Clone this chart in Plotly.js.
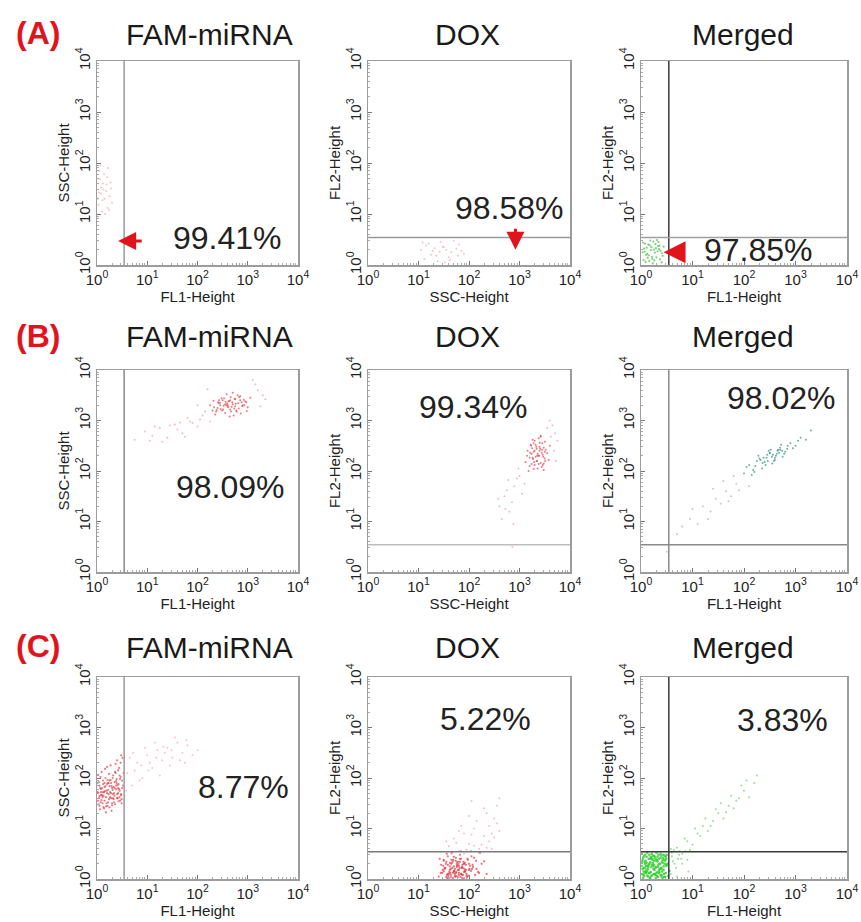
<!DOCTYPE html>
<html>
<head>
<meta charset="utf-8">
<script src="https://cdn.plot.ly/plotly-3.0.1.min.js"></script>
<style>
html,body{margin:0;padding:0;background:#fff}
#chart{width:861px;height:922px}
</style>
</head>
<body>
<div id="chart"></div>
<script>
// Flow cytometry dot plots, values in log10 decades (channel 10^0 .. 10^4)

// ---- (A) ----
const a1X = [0.05,0.12,0.2,0.08,0.28,0.15,0.03,0.22,0.1,0.3,0.18,0.06,0.25,0.14,0.09,0.21,0.04,0.27,0.16,0.11,0.19,0.07,0.24,0.13,0.02];
const a1Y = [1.85,1.6,1.72,1.4,1.5,1.3,1.18,1.9,1.05,1.22,1.45,1.68,1.35,1.78,1.52,1.12,1.42,1.62,1.0,1.27,1.58,1.95,1.08,1.48,1.3];

const a2X = [1.05,1.2,1.35,1.5,1.65,1.8,1.12,1.28,1.44,1.6,1.75,1.9,1.15,1.38,1.55,1.7,1.25,1.48,1.62,1.85,1.08,1.32,1.52,1.78,1.42];
const a2Y = [0.3,0.42,0.18,0.35,0.25,0.4,0.12,0.28,0.45,0.15,0.32,0.22,0.38,0.08,0.3,0.47,0.2,0.36,0.1,0.28,0.44,0.33,0.05,0.18,0.26];

const a3X = [0.05,0.12,0.2,0.3,0.38,0.08,0.16,0.25,0.34,0.42,0.03,0.14,0.22,0.29,0.4,0.1,0.18,0.27,0.36,0.06,0.13,0.24,0.32,0.44,0.09,0.19,0.28,0.37,0.04,0.15,0.23,0.33,0.41,0.11,0.21,0.31,0.07,0.17,0.26,0.35];
const a3Y = [0.1,0.22,0.35,0.15,0.28,0.42,0.08,0.3,0.45,0.18,0.25,0.4,0.12,0.33,0.05,0.2,0.48,0.24,0.38,0.32,0.14,0.46,0.27,0.36,0.06,0.29,0.41,0.11,0.44,0.19,0.03,0.37,0.23,0.34,0.16,0.49,0.26,0.39,0.09,0.31];

// ---- (B) ----
const b1CoreX = [2.3,2.45,2.6,2.75,2.9,3.05,2.35,2.5,2.65,2.8,2.95,2.4,2.55,2.7,2.85,3.0,2.25,2.62,2.78,2.48,2.68,2.88,2.58,2.72,2.42,2.82,2.52,2.92,2.66,2.38,2.76,2.56,2.86,2.46,2.7,2.6,2.98,2.32,2.74,2.64,
  2.33,2.41,2.49,2.57,2.65,2.73,2.81,2.89,2.97,2.37,2.45,2.53,2.61,2.69,2.77,2.85,2.93,2.43,2.51,2.59,2.67,2.75,2.83,2.55,2.63];
const b1CoreY = [3.2,3.35,3.28,3.42,3.3,3.45,3.12,3.4,3.22,3.5,3.38,3.25,3.15,3.32,3.48,3.26,3.3,3.38,3.18,3.44,3.27,3.36,3.52,3.1,3.34,3.24,3.29,3.41,3.46,3.21,3.33,3.37,3.14,3.23,3.55,3.31,3.19,3.39,3.43,3.08,
  3.26,3.36,3.2,3.3,3.4,3.24,3.34,3.28,3.36,3.18,3.3,3.44,3.26,3.36,3.2,3.4,3.3,3.4,3.22,3.34,3.18,3.28,3.46,3.32,3.38];
const b1SpreadX = [0.75,0.95,1.1,1.25,1.4,1.55,1.7,1.85,2.0,2.1,1.3,1.6,1.9,2.15,3.2,3.3,3.15,3.35,2.05,1.45,1.15,1.75,2.2,3.1,2.0,1.65,1.05,3.25,1.8,2.25];
const b1SpreadY = [2.62,2.78,2.7,2.85,2.66,2.92,2.75,2.98,2.88,3.1,2.58,2.82,2.95,3.18,3.6,3.5,3.72,3.42,3.02,2.9,2.88,2.68,3.62,3.8,3.3,2.96,2.6,3.28,3.05,2.98];

const b2CoreX = [3.15,3.25,3.35,3.45,3.55,3.2,3.3,3.4,3.5,3.6,3.18,3.28,3.38,3.48,3.22,3.32,3.42,3.52,3.12,3.36,3.46,3.26,3.4,3.3,3.5,3.24,3.44,3.34,3.58,3.16,3.38,3.28,3.48,3.2,3.42,
  3.21,3.27,3.33,3.39,3.45,3.51,3.24,3.3,3.36,3.42,3.48,3.23,3.29,3.35,3.41,3.47,3.26,3.32,3.38,3.44,3.5,3.28,3.34,3.4,3.46];
const b2CoreY = [2.3,2.45,2.2,2.55,2.35,2.1,2.6,2.4,2.25,2.5,2.0,2.38,2.65,2.15,2.52,2.28,2.7,2.42,2.18,2.05,2.32,2.62,2.48,2.12,2.58,2.34,2.08,2.44,2.22,2.4,2.3,2.55,2.02,2.26,2.68,
  2.36,2.24,2.48,2.3,2.42,2.2,2.14,2.4,2.34,2.16,2.46,2.5,2.18,2.3,2.44,2.28,2.26,2.52,2.14,2.36,2.38,2.04,2.2,2.56,2.12];
const b2SpreadX = [2.6,2.7,2.8,2.9,3.0,2.65,2.75,2.85,2.95,3.05,3.65,3.7,3.75,3.6,3.55,2.72,2.58,2.88,3.1,3.68,2.98,2.78,2.86,3.72,3.62];
const b2SpreadY = [1.3,1.5,1.2,1.7,1.9,1.05,1.62,1.38,1.85,1.55,2.9,2.75,2.6,3.0,2.85,1.25,1.45,0.95,1.75,2.4,2.05,1.82,0.5,2.2,2.68];

const b3CoreX = [2.0,2.1,2.2,2.3,2.4,2.5,2.6,2.7,2.8,2.9,3.0,3.1,3.2,3.3,2.05,2.15,2.25,2.35,2.45,2.55,2.65,2.75,2.85,2.95,3.05,2.28,2.42,2.52,2.62,2.72,2.38,2.48,2.58,2.68,2.18,
  2.22,2.32,2.44,2.54,2.64,2.74,2.84,2.36,2.5,2.6,2.7,2.46,2.56,2.66,2.78];
const b3CoreY = [1.95,2.12,1.98,2.25,2.18,2.35,2.22,2.42,2.38,2.55,2.5,2.66,2.62,2.8,2.08,1.92,2.2,2.05,2.32,2.15,2.4,2.28,2.5,2.45,2.6,2.3,2.12,2.42,2.3,2.52,2.26,2.4,2.2,2.36,2.02,
  2.1,2.22,2.26,2.28,2.34,2.4,2.44,2.16,2.36,2.26,2.46,2.2,2.32,2.42,2.34];
const b3SpreadX = [0.5,0.8,0.95,1.1,1.2,1.35,1.45,1.55,1.65,1.75,1.85,1.9,1.3,1.6,1.0,1.7,1.4,1.8,2.1,0.7];
const b3SpreadY = [0.4,0.9,1.05,0.95,1.3,1.2,1.45,1.35,1.6,1.5,1.75,1.62,1.05,1.8,1.25,1.4,1.65,1.9,1.7,0.75];

// ---- (C) ----
const c1CoreX = [0.02,0.08,0.14,0.2,0.26,0.32,0.38,0.44,0.5,0.05,0.11,0.17,0.23,0.29,0.35,0.41,0.47,0.53,0.03,0.09,0.15,0.21,0.27,0.33,0.39,0.45,0.51,0.06,0.12,0.18,0.24,0.3,0.36,0.42,0.48,0.04,0.1,0.16,0.22,0.28,0.34,0.4,0.46,0.52,0.07,0.13,0.19,0.25,0.31,0.37,0.43,0.49,0.01,0.15,0.25,0.35,0.45,0.08,0.18,0.28,0.38,0.48,0.12,0.22,0.32,0.42,0.05,0.2,0.3,0.4,
  0.03,0.1,0.17,0.24,0.31,0.38,0.45,0.06,0.13,0.2,0.27,0.34,0.41,0.48,0.02,0.09,0.16,0.23,0.3,0.37,0.44,0.05,0.12,0.19,0.26,0.33,0.4,0.47,0.04,0.11,0.18,0.25,0.32,0.39,0.46,0.07,0.14,0.21,0.28,0.35,0.42,0.49,0.08,0.15,0.22,0.29,0.36,0.43,0.5,0.01];
const c1CoreY = [1.55,1.72,1.4,1.88,1.62,2.05,1.78,2.2,1.95,1.85,1.5,2.0,1.68,1.35,1.92,1.6,2.3,2.1,1.7,2.12,1.82,1.45,2.25,1.58,1.98,1.75,2.4,1.38,1.95,1.62,2.08,1.8,1.48,2.15,1.66,1.6,1.8,2.18,1.52,1.9,1.7,2.35,1.55,1.85,2.02,1.65,1.75,1.42,2.0,2.28,1.88,1.58,1.9,1.55,1.95,1.65,2.05,1.78,1.32,1.7,1.85,2.45,1.72,1.9,1.6,1.8,1.45,2.22,1.5,1.68,
  1.48,1.66,1.84,1.58,1.76,1.94,1.62,1.8,1.42,1.7,1.96,1.52,1.86,1.68,2.06,1.56,1.74,1.9,1.46,2.1,1.78,1.64,1.88,1.5,1.72,1.82,1.6,2.02,1.92,1.62,1.44,1.84,1.68,1.9,1.98,1.52,1.72,1.96,1.6,1.8,1.7,1.5,1.66,1.9,1.76,1.84,2.12,1.54,1.8,1.72];
const c1SpreadX = [0.6,0.7,0.8,0.9,1.0,1.1,1.2,1.3,1.4,1.5,1.6,1.7,1.8,1.9,2.0,0.65,0.75,0.85,0.95,1.05,1.15,1.25,1.35,1.45,1.55,1.65,1.75,0.58,0.88,1.18,1.48,1.78,0.72,1.02,1.32];
const c1SpreadY = [2.1,1.85,2.3,2.0,2.45,2.2,2.55,2.35,2.6,2.4,2.7,2.5,2.65,2.45,2.55,2.4,2.15,1.95,2.6,2.3,2.7,2.05,2.5,2.25,2.8,2.35,2.3,1.75,2.25,2.4,2.55,2.75,2.5,2.15,2.62];

const c2CoreX = [1.4,1.5,1.6,1.7,1.8,1.9,2.0,2.1,2.2,2.3,1.45,1.55,1.65,1.75,1.85,1.95,2.05,2.15,2.25,2.35,1.42,1.52,1.62,1.72,1.82,1.92,2.02,2.12,2.22,1.48,1.58,1.68,1.78,1.88,1.98,2.08,2.18,1.44,1.54,1.64,1.74,1.84,1.94,2.04,2.14,1.6,1.7,1.8,1.66,1.76,1.86,1.56,1.72,1.82,1.92,1.62,1.78,1.68,1.88,1.74,1.5,1.84,1.96,2.06,1.58,1.7,1.8,1.9,1.64,1.76,
  1.47,1.53,1.59,1.65,1.71,1.77,1.83,1.89,1.95,2.01,2.07,1.5,1.56,1.62,1.68,1.74,1.8,1.86,1.92,1.98,2.04,1.49,1.55,1.61,1.67,1.73,1.79,1.85,1.91,1.97,1.52,1.58,1.64,1.7,1.76,1.82,1.88,1.94,2.0,1.63,1.69,1.75,1.81,1.87,1.57,1.66,1.72,1.78,1.84,1.9];
const c2CoreY = [0.05,0.15,0.1,0.25,0.08,0.3,0.18,0.42,0.12,0.35,0.28,0.04,0.38,0.14,0.22,0.06,0.45,0.2,0.3,0.1,0.4,0.22,0.32,0.06,0.48,0.16,0.26,0.08,0.52,0.18,0.45,0.12,0.34,0.02,0.38,0.24,0.14,0.12,0.3,0.2,0.42,0.1,0.28,0.55,0.36,0.02,0.16,0.26,0.52,0.32,0.08,0.5,0.2,0.4,0.14,0.25,0.04,0.35,0.22,0.12,0.36,0.55,0.03,0.2,0.1,0.44,0.18,0.3,0.08,0.28,
  0.12,0.22,0.06,0.3,0.16,0.26,0.04,0.34,0.1,0.2,0.28,0.38,0.08,0.18,0.02,0.36,0.12,0.24,0.32,0.06,0.16,0.26,0.34,0.14,0.22,0.04,0.3,0.1,0.2,0.4,0.2,0.28,0.04,0.14,0.24,0.34,0.08,0.18,0.3,0.12,0.38,0.06,0.22,0.28,0.02,0.32,0.1,0.18,0.4,0.14];
const c2SpreadX = [1.6,1.7,1.8,1.9,2.0,2.1,2.2,2.3,2.4,2.5,2.6,1.65,1.75,1.85,1.95,2.05,2.15,2.25,2.35,2.45,2.55,1.55,2.0,2.2,2.4,2.5,1.8,2.3,2.1,2.6,1.9,2.45,2.35,2.55,2.05];
const c2SpreadY = [0.65,0.8,0.55,0.9,0.7,1.0,0.6,0.85,0.75,1.2,0.95,0.5,0.72,1.05,0.58,0.88,1.15,0.68,1.3,0.6,1.45,0.75,1.25,0.52,1.05,0.82,0.95,1.4,0.66,1.6,0.5,0.9,0.62,1.1,1.55];

const c3CoreX = [0.02,0.08,0.14,0.2,0.26,0.32,0.38,0.44,0.5,0.05,0.11,0.17,0.23,0.29,0.35,0.41,0.47,0.53,0.03,0.09,0.15,0.21,0.27,0.33,0.39,0.45,0.51,0.06,0.12,0.18,0.24,0.3,0.36,0.42,0.48,0.04,0.1,0.16,0.22,0.28,0.34,0.4,0.46,0.01,0.07,0.13,0.19,0.25,0.31,0.37,0.43,0.49,0.55,0.1,0.2,0.3,0.4,0.15,0.25,0.35,0.05,0.45,0.12,0.22,0.32,0.42,0.18,0.28,0.38,0.08,
  0.03,0.09,0.15,0.21,0.27,0.33,0.39,0.45,0.06,0.12,0.18,0.24,0.3,0.36,0.42,0.48,0.02,0.08,0.14,0.2,0.26,0.32,0.38,0.44,0.5,0.05,0.11,0.17,0.23,0.29,0.35,0.41,0.47,0.04,0.1,0.16,0.22,0.28,0.34,0.4,0.46,0.07,0.13,0.19,0.25,0.31,0.37,0.43,0.49,0.01];
const c3CoreY = [0.1,0.3,0.05,0.42,0.18,0.35,0.08,0.25,0.48,0.22,0.44,0.12,0.32,0.02,0.4,0.15,0.36,0.06,0.38,0.16,0.28,0.5,0.1,0.24,0.46,0.04,0.3,0.45,0.07,0.33,0.2,0.52,0.14,0.38,0.12,0.02,0.26,0.48,0.08,0.4,0.28,0.2,0.46,0.5,0.34,0.2,0.14,0.46,0.06,0.3,0.42,0.26,0.16,0.12,0.24,0.36,0.05,0.4,0.28,0.18,0.15,0.1,0.52,0.38,0.44,0.32,0.02,0.08,0.5,0.22,
  0.2,0.36,0.12,0.28,0.44,0.04,0.22,0.38,0.06,0.16,0.4,0.26,0.12,0.3,0.02,0.44,0.34,0.48,0.24,0.06,0.36,0.14,0.42,0.18,0.28,0.08,0.32,0.02,0.46,0.24,0.12,0.34,0.04,0.42,0.14,0.3,0.4,0.22,0.48,0.08,0.3,0.12,0.26,0.44,0.1,0.38,0.2,0.48,0.4,0.26];
const c3SpreadX = [0.6,0.7,0.8,0.9,1.0,1.1,1.2,1.3,1.4,1.5,1.6,1.7,1.8,1.9,2.0,2.1,2.2,0.65,0.75,0.85,0.95,1.05,1.15,1.25,1.35,1.45,1.55,1.65,1.75,1.85,1.95,2.05,0.58,0.72,2.25,
  0.58,0.62,0.68,0.74,0.8,0.86,0.92,0.64,0.7,0.78,0.6,0.9];
const c3SpreadY = [0.45,0.62,0.5,0.75,0.68,0.9,1.05,0.95,1.15,1.3,1.2,1.45,1.4,1.6,1.75,1.62,1.9,0.3,0.55,0.8,0.58,1.0,0.85,1.2,1.05,1.38,1.5,1.32,1.65,1.55,1.85,1.95,0.6,0.4,2.05,
  0.1,0.35,0.22,0.48,0.3,0.55,0.15,0.58,0.05,0.4,0.52,0.38];

// Gate position (decades) and quoted percentages
const gateLevel = 0.54;
const rowTags = ['(A)', '(B)', '(C)'];
const columnTitles = ['FAM-miRNA', 'DOX', 'Merged'];
const xTitles = ['FL1-Height', 'SSC-Height', 'FL1-Height'];
const yTitles = ['SSC-Height', 'FL2-Height', 'FL2-Height'];
const percentLabels = ['99.41%', '98.58%', '97.85%', '98.09%', '99.34%', '98.02%', '8.77%', '5.22%', '3.83%'];
const tickValues = [0, 1, 2, 3, 4];
const tickLabels = ['10<sup>0</sup>', '10<sup>1</sup>', '10<sup>2</sup>', '10<sup>3</sup>', '10<sup>4</sup>'];

// ---- layout geometry (pixels) ----
const W = 861, H = 922;
const colBox = [[97, 298], [368, 570], [641, 847]];
const rowBox = [[61, 265], [370, 572], [677, 879]];
const titleRowY = [34, 337, 647];
const titleColX = [209, 467, 743];
const percentPos = [[2.59, 0.53], [2.8, 1.12], [2.29, 0.29], [2.65, 1.69], [2.09, 3.27], [2.73, 3.45], [2.91, 1.83], [2.32, 3.16], [2.75, 3.14]];

const RED = 'rgb(226,52,62)';
const PINK = 'rgb(236,140,150)';

// panel layers: [x, y, color, size, opacity]
const panels = [
  [[a1X, a1Y, PINK, 2, 0.5]],
  [[a2X, a2Y, PINK, 2, 0.5]],
  [[a3X, a3Y, 'rgb(90,200,90)', 2.2, 0.8]],
  [[b1SpreadX, b1SpreadY, PINK, 2, 0.6], [b1CoreX, b1CoreY, RED, 2, 0.65]],
  [[b2SpreadX, b2SpreadY, PINK, 2, 0.6], [b2CoreX, b2CoreY, RED, 2, 0.65]],
  [[b3SpreadX, b3SpreadY, 'rgb(150,170,160)', 2, 0.6], [b3CoreX, b3CoreY, 'rgb(40,150,110)', 2, 0.7]],
  [[c1SpreadX, c1SpreadY, PINK, 2, 0.5], [c1CoreX, c1CoreY, RED, 2.2, 0.65]],
  [[c2SpreadX, c2SpreadY, PINK, 2, 0.55], [c2CoreX, c2CoreY, RED, 2.2, 0.7]],
  [[c3SpreadX, c3SpreadY, 'rgb(110,205,110)', 2, 0.7], [c3CoreX, c3CoreY, 'rgb(45,205,45)', 2.6, 0.8]]
];

// gate line colours per panel: [vertical, horizontal]
const gateColors = [
  ['#9a9a9a', null], [null, '#9a9a9a'], ['#3a3a3a', '#a0a0a0'],
  ['#8a8a8a', null], [null, '#bdbdbd'], ['#8a8a8a', '#8a8a8a'],
  ['#9a9a9a', null], [null, '#7a7a7a'], ['#3a3a3a', '#3a3a3a']
];

const font = 'Liberation Sans, Arial, sans-serif';
const traces = [];
const layout = {
  width: W, height: H,
  margin: {l: 0, r: 0, t: 0, b: 0},
  paper_bgcolor: '#fff', plot_bgcolor: '#fff',
  showlegend: false,
  font: {family: font, color: '#222'},
  shapes: [], annotations: []
};

// minor ticks at log positions 2..9 in each decade
const minorVals = [];
for (let d = 0; d < 4; d++) for (let k = 2; k <= 9; k++) minorVals.push(d + Math.log10(k));

for (let r = 0; r < 3; r++) {
  for (let c = 0; c < 3; c++) {
    const i = r * 3 + c;
    const n = i === 0 ? '' : String(i + 1);
    const xa = 'x' + n, ya = 'y' + n;
    panels[i].forEach(([xs, ys, col, sz, op]) => {
      traces.push({
        type: 'scatter', mode: 'markers', x: xs, y: ys,
        xaxis: xa, yaxis: ya, hoverinfo: 'skip',
        marker: {size: sz, color: col, opacity: op, line: {width: 0}}
      });
    });
    const common = {
      range: [0, 4], tickmode: 'array', tickvals: tickValues, ticktext: tickLabels,
      showgrid: false, zeroline: false, showline: true, mirror: true,
      linecolor: '#9c9c9c', linewidth: 1.5, ticks: 'inside', ticklen: 4, tickcolor: '#777',
      minor: {tickvals: minorVals, ticks: 'inside', ticklen: 2, tickcolor: '#aaa'},
      tickfont: {size: 15, color: '#222', family: font},
      fixedrange: true
    };
    layout['xaxis' + n] = Object.assign({}, common, {
      domain: [colBox[c][0] / W, colBox[c][1] / W], anchor: ya,
      title: {text: xTitles[c], font: {size: 15, color: '#222'}, standoff: 0}
    });
    layout['yaxis' + n] = Object.assign({}, common, {
      domain: [1 - rowBox[r][1] / H, 1 - rowBox[r][0] / H], anchor: xa,
      tickangle: -90,
      title: {text: yTitles[c], font: {size: 15, color: '#222'}, standoff: 0}
    });
    // gates
    const [vc, hc] = gateColors[i];
    if (vc) layout.shapes.push({type: 'line', xref: xa, yref: ya, x0: gateLevel, x1: gateLevel, y0: 0, y1: 4, line: {color: vc, width: 1.5}});
    if (hc) layout.shapes.push({type: 'line', xref: xa, yref: ya, x0: 0, x1: 4, y0: gateLevel, y1: gateLevel, line: {color: hc, width: 1.5}});
    // percentage
    layout.annotations.push({
      xref: xa, yref: ya, x: percentPos[i][0], y: percentPos[i][1],
      xanchor: 'center', yanchor: 'middle',
      text: percentLabels[i], showarrow: false,
      font: {size: 32, color: '#222', family: font}
    });
    // column title
    layout.annotations.push({
      xref: 'paper', yref: 'paper', x: titleColX[c] / W, y: 1 - titleRowY[r] / H,
      xanchor: 'center', yanchor: 'middle',
      text: columnTitles[c], showarrow: false,
      font: {size: 30, color: '#1a1a1a', family: font}
    });
  }
  layout.annotations.push({
    xref: 'paper', yref: 'paper', x: 38 / W, y: 1 - (titleRowY[r] - 1) / H,
    xanchor: 'center', yanchor: 'middle',
    text: '<b>' + rowTags[r] + '</b>', showarrow: false,
    font: {size: 32, color: '#e0141c', family: font}
  });
}

// red pointer arrows in row (A)
layout.annotations.push(
  {xref: 'x', yref: 'y', axref: 'x', ayref: 'y', x: 0.42, y: 0.47, ax: 0.92, ay: 0.47,
   showarrow: true, arrowhead: 2, arrowsize: 1.2, arrowwidth: 3, arrowcolor: '#e0141c', text: ''},
  {xref: 'x2', yref: 'y2', axref: 'x2', ayref: 'y2', x: 2.92, y: 0.3, ax: 2.92, ay: 0.74,
   showarrow: true, arrowhead: 2, arrowsize: 1.2, arrowwidth: 3, arrowcolor: '#e0141c', text: ''},
  {xref: 'x3', yref: 'y3', axref: 'x3', ayref: 'y3', x: 0.44, y: 0.25, ax: 0.84, ay: 0.25,
   showarrow: true, arrowhead: 2, arrowsize: 1.25, arrowwidth: 3.5, arrowcolor: '#e0141c', text: ''}
);

Plotly.newPlot('chart', traces, layout, {displayModeBar: false, staticPlot: true});
</script>
</body>
</html>
